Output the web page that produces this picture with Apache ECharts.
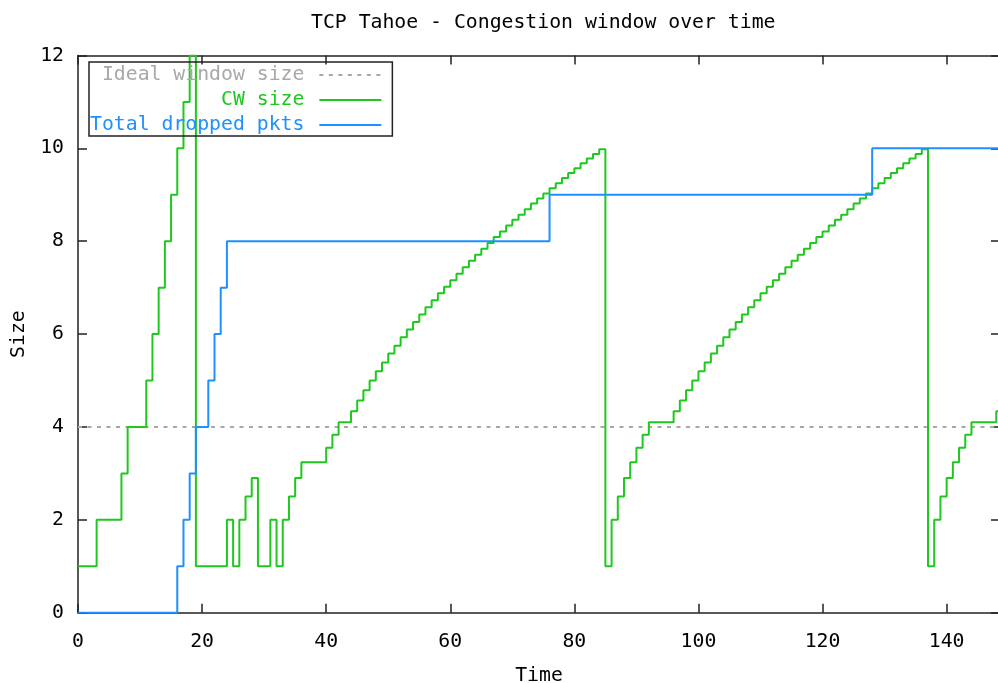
<!DOCTYPE html>
<html>
<head>
<meta charset="utf-8">
<script src="https://cdn.jsdelivr.net/npm/echarts@6/dist/echarts.min.js"></script>
<style>
  html, body { margin: 0; padding: 0; background: #fff; }
  #chart { width: 998px; height: 683px; }
</style>
</head>
<body>
<div id="chart"></div>
<script>
const FONT = "DejaVu Sans Mono"

const titleText = "TCP Tahoe - Congestion window over time"
const names = ["Ideal window size", "CW size", "Total dropped pkts"]

// ideal window: flat line
const idealTime = [0, 150]
const idealSize = [4, 4]

// congestion window, one value per time unit (t = 0, 1, 2, ...)
const cwSize = [
  1, 1, 1, 2, 2, 2, 2, 3, 4, 4,
  4, 5, 6, 7, 8, 9, 10, 11, 12, 1,
  1, 1, 1, 1, 2, 1, 2, 2.5, 2.9, 1,
  1, 2, 1, 2, 2.5, 2.9, 3.24, 3.24, 3.24, 3.24,
  3.55, 3.83, 4.1, 4.1, 4.34, 4.57, 4.79, 5.0, 5.2, 5.39,
  5.58, 5.75, 5.93, 6.1, 6.26, 6.42, 6.58, 6.73, 6.88, 7.02,
  7.16, 7.3, 7.44, 7.58, 7.71, 7.84, 7.96, 8.09, 8.21, 8.34,
  8.46, 8.57, 8.69, 8.81, 8.92, 9.03, 9.14, 9.25, 9.36, 9.47,
  9.57, 9.68, 9.78, 9.88, 9.98, 1, 2, 2.5, 2.9, 3.24,
  3.55, 3.83, 4.1, 4.1, 4.1, 4.1, 4.34, 4.57, 4.79, 5.0,
  5.2, 5.39, 5.58, 5.75, 5.93, 6.1, 6.26, 6.42, 6.58, 6.73,
  6.88, 7.02, 7.16, 7.3, 7.44, 7.58, 7.71, 7.84, 7.96, 8.09,
  8.21, 8.34, 8.46, 8.57, 8.69, 8.81, 8.92, 9.03, 9.14, 9.25,
  9.36, 9.47, 9.57, 9.68, 9.78, 9.88, 9.98, 1, 2, 2.5,
  2.9, 3.24, 3.55, 3.83, 4.1, 4.1, 4.1, 4.1, 4.34, 4.57,
  4.79
]

// dropped packets (cumulative), value holds until next time
const dropTime = [0, 16, 17, 18, 19, 21, 22, 23, 24, 76, 128, 150]
const dropCount = [0, 1, 2, 3, 4, 5, 6, 7, 8, 9, 10, 10]

const GREEN = "#1ec81e"
const BLUE = "#1e90ff"
const GREY = "#a8a8a8"
const AXIS = "#222"
const X_MAX = 148.6

const pairs = (xs, ys) => xs.map((x, i) => [x, ys[i]])

const chart = echarts.init(document.getElementById("chart"))

const tickStyle = {show: true, inside: true, length: 9, lineStyle: {color: AXIS, width: 1.5}}
const lineAxis = {show: true, onZero: false, lineStyle: {color: AXIS, width: 1.5}}

chart.setOption({
  animation: false,
  backgroundColor: "#fff",
  textStyle: {fontFamily: FONT},
  title: {
    text: titleText,
    left: 306,
    top: 8,
    textStyle: {fontFamily: FONT, fontSize: 19.8, fontWeight: "normal", color: "#000"}
  },
  // plot area runs a little past the right edge of the picture
  grid: {left: 78, top: 55.5, width: 922, bottom: 70.3, containLabel: false, outerBoundsMode: "none"},
  legend: {
    orient: "vertical",
    align: "right",
    left: 89,
    top: 62,
    padding: [3, 10, 1, 1],
    itemWidth: 62,
    itemHeight: 14,
    itemGap: 5,
    borderColor: AXIS,
    borderWidth: 1.5,
    itemStyle: {color: "transparent", borderColor: "transparent", borderWidth: 0},
    data: [
      {name: names[0], textStyle: {color: GREY}},
      {name: names[1], textStyle: {color: GREEN}},
      {name: names[2], textStyle: {color: BLUE}}
    ],
    textStyle: {fontFamily: FONT, fontSize: 19.8, lineHeight: 20, padding: [0, 10, 0, 0]}
  },
  xAxis: [
    {
      type: "value", min: 0, max: X_MAX, interval: 20,
      name: "Time", nameLocation: "middle", nameGap: 53,
      nameTextStyle: {fontFamily: FONT, fontSize: 19.8, color: "#000"},
      axisLine: lineAxis, axisTick: tickStyle, splitLine: {show: false},
      axisLabel: {fontFamily: FONT, fontSize: 19.8, color: "#000", margin: 19, showMaxLabel: false}
    },
    {
      type: "value", min: 0, max: X_MAX, interval: 20, position: "top",
      axisLine: lineAxis, axisTick: tickStyle, splitLine: {show: false},
      axisLabel: {show: false}
    }
  ],
  yAxis: [
    {
      type: "value", min: 0, max: 12, interval: 2,
      name: "Size", nameLocation: "middle", nameGap: 49,
      nameTextStyle: {fontFamily: FONT, fontSize: 19.8, color: "#000"},
      axisLine: lineAxis, axisTick: tickStyle, splitLine: {show: false},
      axisLabel: {fontFamily: FONT, fontSize: 19.8, color: "#000", margin: 14}
    },
    {
      type: "value", min: 0, max: 12, interval: 2, position: "right",
      axisLine: lineAxis, axisTick: tickStyle, splitLine: {show: false},
      axisLabel: {show: false}
    }
  ],
  series: [
    {
      name: names[0],
      type: "line",
      symbol: "none",
      color: GREY,
      lineStyle: {color: GREY, width: 2, type: [4, 5.5]},
      data: pairs(idealTime, idealSize)
    },
    {
      name: names[1],
      type: "line",
      step: "end",
      symbol: "none",
      color: GREEN,
      lineStyle: {color: GREEN, width: 2},
      data: cwSize.map((v, t) => [t, v])
    },
    {
      name: names[2],
      type: "line",
      step: "end",
      symbol: "none",
      color: BLUE,
      lineStyle: {color: BLUE, width: 2},
      data: pairs(dropTime, dropCount)
    }
  ]
})
</script>
</body>
</html>
